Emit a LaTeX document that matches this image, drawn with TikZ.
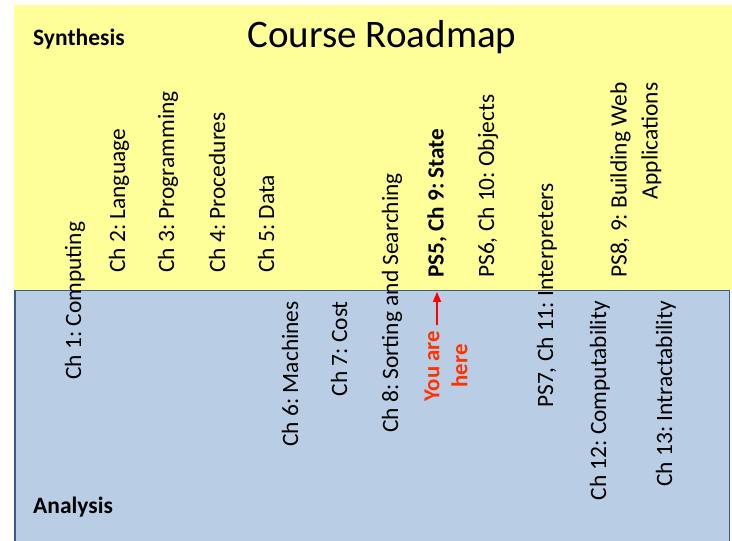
\documentclass[tikz,border=0pt]{standalone}
\usepackage{fontspec}
\setmainfont{Carlito}
\usetikzlibrary{arrows}
\definecolor{synyellow}{rgb}{1.,1.,0.6}
\definecolor{anablue}{rgb}{0.725,0.804,0.898}
\definecolor{anaborder}{rgb}{0.22,0.365,0.541}
\definecolor{herered}{rgb}{1.,0.2,0.}
\tikzset{
  chap/.style={rotate=90,inner sep=0pt,font=\frenchspacing\fontsize{23.4}{31}\selectfont},
  up/.style={chap,anchor=west},
  down/.style={chap,anchor=east},
  side/.style={inner sep=0pt,anchor=base west,font=\bfseries\fontsize{23.5}{28}\selectfont}
}

\begin{document}
\begin{tikzpicture}[line cap=round,line join=round,>=triangle 45,x=1pt,y=-1pt]
\useasboundingbox (0,0) rectangle (732,541);
\draw [fill=anablue,draw=anaborder,line width=1.5pt] (14.75,290) rectangle (729.25,560);
\fill [synyellow] (14,5) rectangle (732,290);
\node [side] (synth) at (33,45) {Synthesis};
\node [side] (anal) at (33,513) {Analysis};
\node [anchor=base,inner sep=0pt,font=\fontsize{39}{46}\selectfont] (title) at (382,47) {Course Roadmap};
\node [up] (ch1) at (75,380) {Ch 1: Computing};
\node [up] (ch2) at (119,273) {Ch 2: Language};
\node [up] (ch3) at (168,273) {Ch 3: Programming};
\node [up] (ch4) at (217,273) {Ch 4: Procedures};
\node [up] (ch5) at (266,273) {Ch 5: Data};
\node [down] (ch6) at (290,301) {Ch 6: Machines};
\node [down] (ch7) at (339,301) {Ch 7: Cost};
\node [up] (ch8) at (392,433) {Ch 8: Sorting and Searching};
\node [up,font=\frenchspacing\bfseries\fontsize{23.2}{28}\selectfont] (ps5) at (437,278) {PS5, Ch 9: State};
\node [up] (ps6) at (488,278) {PS6, Ch 10: Objects};
\node [up] (ps7) at (547,408) {PS7, Ch 11: Interpreters};
\node [down] (ch12) at (600,301) {Ch 12: Computability};
\node [up,align=right] (ps8) at (636,278) {PS8, 9: Building Web\\Applications};
\node [down] (ch13) at (666,301) {Ch 13: Intractability};
\node [rotate=90,inner sep=0pt,align=center,text=herered,font=\bfseries\fontsize{22.8}{28}\selectfont] (youhere) at (446,366) {You are\\here};
\draw [->,color=red,line width=1.3pt,shorten <=6pt,shorten >=14pt] (youhere.east -| ps5.west) -- (ps5.west);
\end{tikzpicture}
\end{document}
